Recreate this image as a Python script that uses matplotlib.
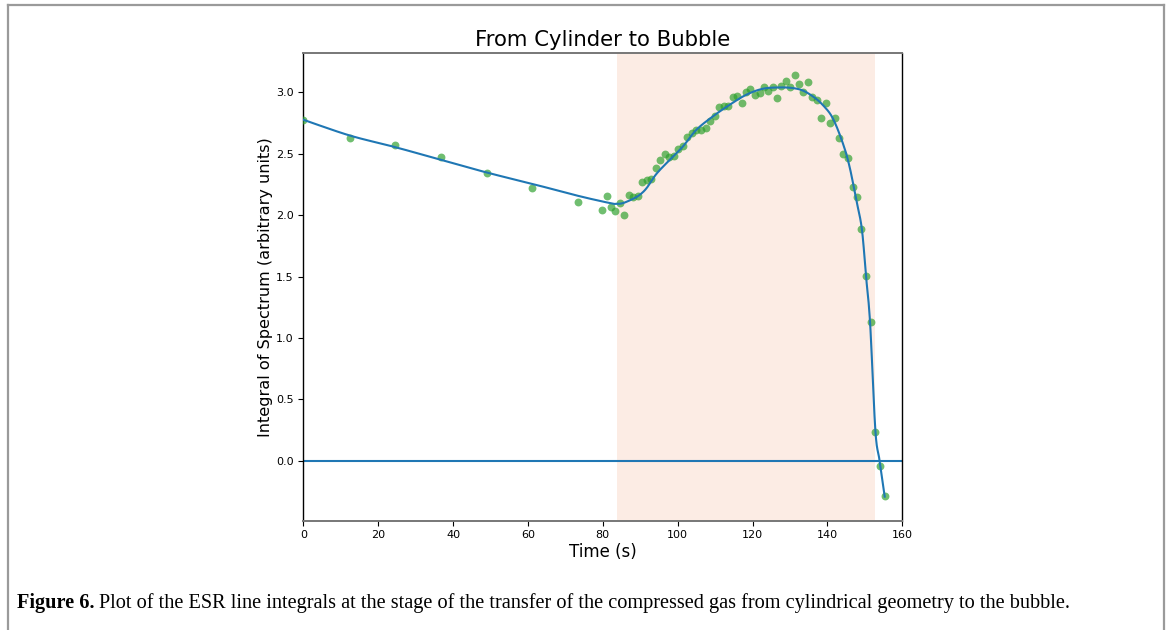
import matplotlib
matplotlib.use("Agg")
import matplotlib.pyplot as plt
from matplotlib.lines import Line2D
import numpy as np

# ---- data ----
time_s = [0.0, 12.35, 24.53, 36.72, 48.99, 61.15, 73.41,
          79.81, 80.99, 82.19, 83.39, 84.61, 85.79, 86.99, 88.19, 89.41, 90.59,
          91.73, 92.99, 94.16, 95.39, 96.61, 97.81, 99.01, 100.21, 101.44, 102.61,
          103.84, 105.01, 106.24, 107.44, 108.67, 109.89, 111.09, 112.29, 113.47,
          114.67, 115.87, 117.07, 118.27, 119.44, 120.61, 121.87, 122.99, 124.19,
          125.33, 126.56, 127.73, 128.88, 130.11, 131.25, 132.43, 133.60, 134.83,
          135.97, 137.15, 138.37, 139.55, 140.75, 141.95, 143.12, 144.29, 145.55,
          146.72, 147.87, 149.09, 150.32, 151.55, 152.80, 153.95, 155.28]
integral = [2.777, 2.632, 2.573, 2.473, 2.342, 2.220, 2.106,
            2.041, 2.152, 2.064, 2.031, 2.095, 2.005, 2.165, 2.149, 2.152, 2.269,
            2.289, 2.297, 2.385, 2.445, 2.497, 2.472, 2.483, 2.538, 2.567, 2.637,
            2.668, 2.695, 2.691, 2.707, 2.763, 2.808, 2.883, 2.887, 2.888,
            2.958, 2.971, 2.914, 3.005, 3.031, 2.980, 2.993, 3.042, 3.007,
            3.044, 2.952, 3.055, 3.089, 3.045, 3.138, 3.066, 3.002, 3.084,
            2.958, 2.937, 2.795, 2.916, 2.754, 2.791, 2.628, 2.498, 2.467,
            2.231, 2.149, 1.886, 1.505, 1.128, 0.231, -0.043, -0.290]

# fitted curve samples
fit_t = [0.0, 12.35, 24.5, 36.7, 49.0, 61.1, 73.4, 81.9, 83.6, 85.4, 88.1, 89.9,
         91.7, 94.3, 97.9, 101.4, 105.0, 109.4, 113.9, 118.3, 122.7, 127.2,
         130.7, 133.4, 136.1, 138.7, 141.4, 144.1, 145.9, 147.7, 149.2, 150.3,
         151.4, 152.8, 153.9, 155.3]
fit_y = [2.777, 2.649, 2.554, 2.451, 2.347, 2.255, 2.157, 2.098, 2.092, 2.098,
         2.133, 2.166, 2.220, 2.335, 2.451, 2.559, 2.695, 2.804, 2.899, 2.980,
         3.029, 3.040, 3.035, 3.015, 2.967, 2.899, 2.791, 2.587, 2.396, 2.125,
         1.886, 1.505, 1.120, 0.250, 0.006, -0.293]

span_start, span_end = 83.7, 152.8
xticks = [0, 20, 40, 60, 80, 100, 120, 140, 160]
yticks = [0.0, 0.5, 1.0, 1.5, 2.0, 2.5, 3.0]

title = "From Cylinder to Bubble"
xlabel = "Time (s)"
ylabel = "Integral of Spectrum (arbitrary units)"
cap_bold = "Figure 6."
cap_text = ("Plot of the ESR line integrals at the stage of the transfer of the "
            "compressed gas from cylindrical geometry to the bubble.")


def smooth_curve(xs, ys, n=12):
    """Catmull-Rom rendering of the read curve samples (smooth drawing only)."""
    P = np.column_stack([xs, ys]).astype(float)
    P = np.vstack([P[0], P, P[-1]])
    out = []
    for i in range(1, len(P) - 2):
        p0, p1, p2, p3 = P[i - 1], P[i], P[i + 1], P[i + 2]
        for u in np.linspace(0, 1, n, endpoint=False):
            u2, u3 = u * u, u * u * u
            pt = 0.5 * ((2 * p1) + (-p0 + p2) * u +
                        (2 * p0 - 5 * p1 + 4 * p2 - p3) * u2 +
                        (-p0 + 3 * p1 - 3 * p2 + p3) * u3)
            out.append(pt)
    out.append(P[-2])
    out = np.array(out)
    return out[:, 0], out[:, 1]


# ---- figure ----
fig = plt.figure(figsize=(11.7, 6.3), dpi=100)
W, H = 1170, 630
ax = fig.add_axes([303.3 / W, 1 - 520.7 / H, (902.3 - 303.3) / W, (520.7 - 53.3) / H])

ax.axvspan(span_start, span_end, color="#fcece4", lw=0, zorder=0)
ax.axhline(0.0, color="#1f77b4", lw=1.5, zorder=2)
ax.scatter(time_s, integral, s=32, color="#2ca02c", alpha=0.68, lw=0, zorder=3)
sx, sy = smooth_curve(fit_t, fit_y)
ax.plot(sx, sy, color="#1f77b4", lw=1.5, zorder=4)

ax.set_xlim(0, 160)
ax.set_ylim(-0.489, 3.318)
ax.set_xticks(xticks)
ax.set_xticklabels([str(v) for v in xticks])
ax.set_yticks(yticks)
ax.set_yticklabels([f"{v:.1f}" for v in yticks])
ax.tick_params(labelsize=8, length=3.5, width=0.8)

for side in ("top", "bottom"):
    ax.spines[side].set_color("#777777")
    ax.spines[side].set_linewidth(1.4)
for side in ("left", "right"):
    ax.spines[side].set_color("black")
    ax.spines[side].set_linewidth(1.0)

ax.set_title(title, fontsize=15.3, pad=5)
ax.set_xlabel(xlabel, fontsize=12, labelpad=2)
ax.set_ylabel(ylabel, fontsize=11.6, labelpad=2)

# page frame (left, top, right)
frame_col = "#9a9a9a"
fig.add_artist(Line2D([8 / W, 8 / W], [0, 1 - 5 / H], transform=fig.transFigure,
                      color=frame_col, lw=1.6))
fig.add_artist(Line2D([8 / W, 1164 / W], [1 - 5 / H, 1 - 5 / H], transform=fig.transFigure,
                      color=frame_col, lw=1.6))
fig.add_artist(Line2D([1164 / W, 1164 / W], [0, 1 - 5 / H], transform=fig.transFigure,
                      color=frame_col, lw=1.6))

# caption
cap_y = 1 - 603 / H
t1 = fig.text(17 / W, cap_y, cap_bold, fontsize=14.6, fontweight="bold",
              family="Liberation Serif", va="center", ha="left")
fig.canvas.draw()
bb = t1.get_window_extent()
fig.text((bb.x1 + 4) / W, cap_y, cap_text, fontsize=14.6,
         family="Liberation Serif", va="center", ha="left")

fig.savefig("out.png", dpi=100)
